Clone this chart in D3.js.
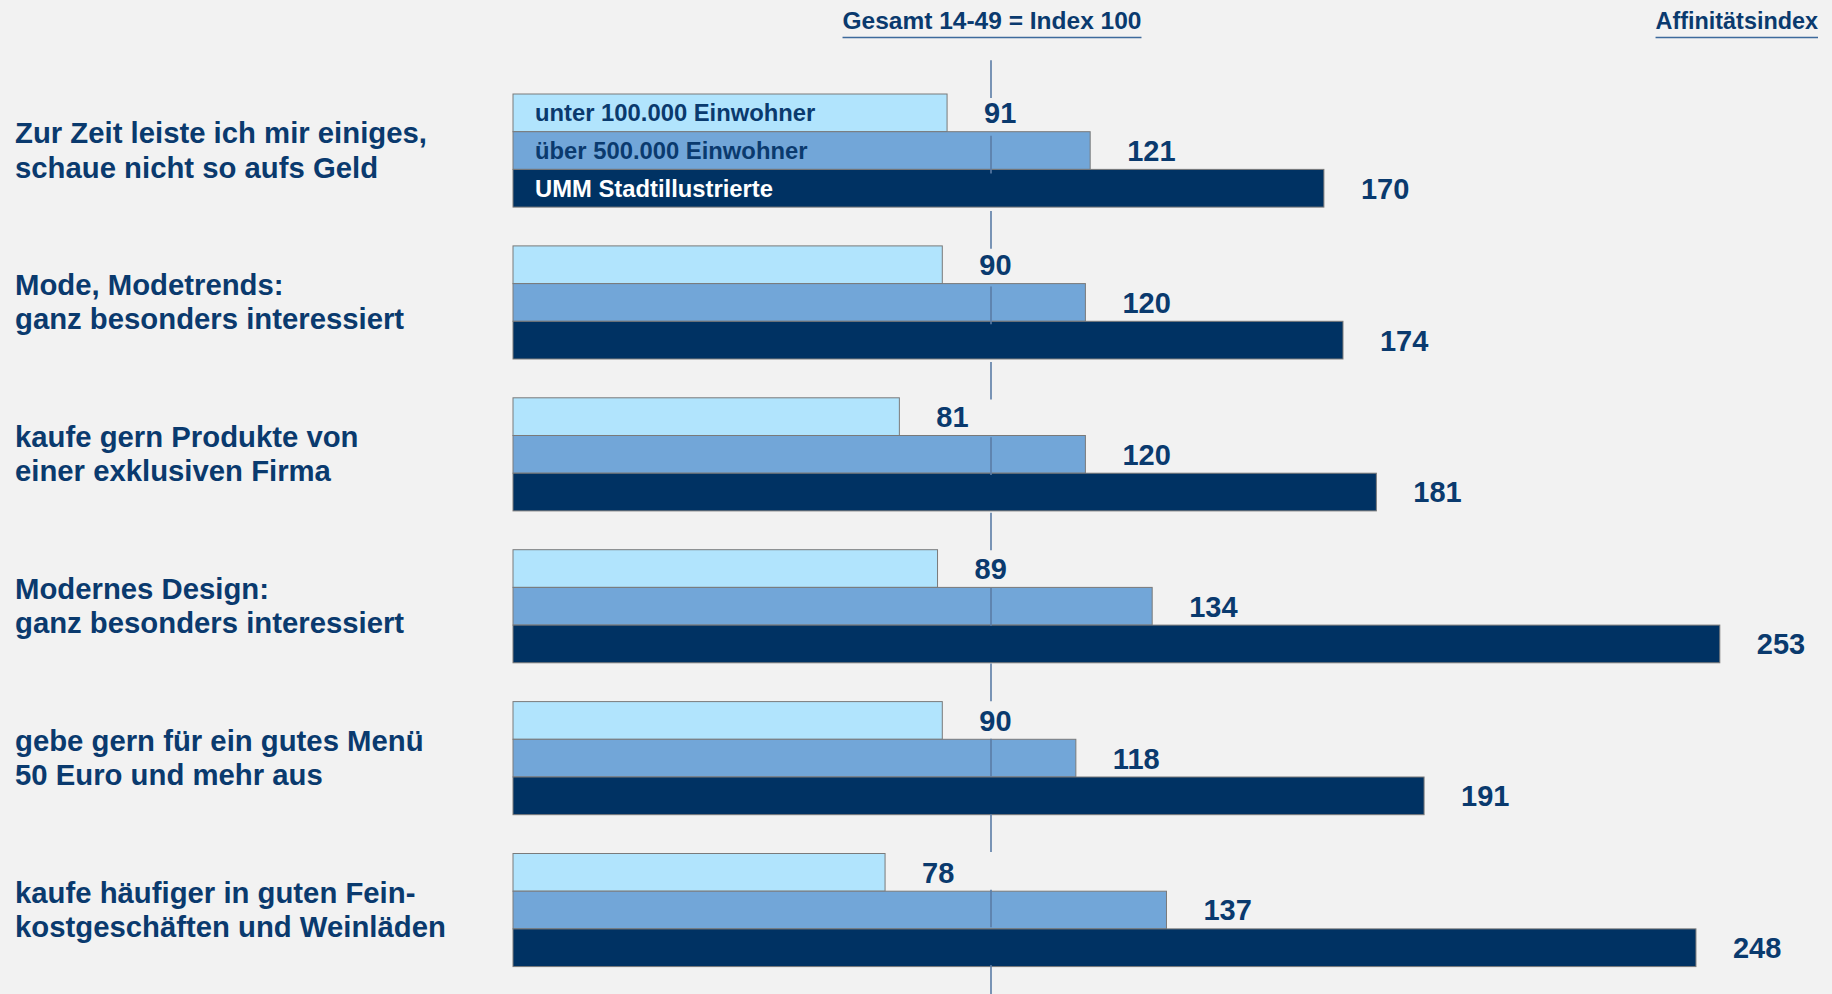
<!DOCTYPE html>
<html>
<head>
<meta charset="utf-8">
<script src="https://cdn.jsdelivr.net/npm/d3@7"></script>
<style>
  html, body { margin: 0; padding: 0; background: #f2f2f2; }
  svg { display: block; }
  text { font-family: "Liberation Sans", Arial, Helvetica, sans-serif; font-weight: bold; }
</style>
</head>
<body>
<script>
// ---- data ----
const categories = [
  ["Zur Zeit leiste ich mir einiges,", "schaue nicht so aufs Geld"],
  ["Mode, Modetrends:", "ganz besonders interessiert"],
  ["kaufe gern Produkte von", "einer exklusiven Firma"],
  ["Modernes Design:", "ganz besonders interessiert"],
  ["gebe gern für ein gutes Menü", "50 Euro und mehr aus"],
  ["kaufe häufiger in guten Fein-", "kostgeschäften und Weinläden"]
];
const seriesNames = ["unter 100.000 Einwohner", "über 500.000 Einwohner", "UMM Stadtillustrierte"];
const unter100k = [91, 90, 81, 89, 90, 78];
const ueber500k = [121, 120, 120, 134, 118, 137];
const umm = [170, 174, 181, 253, 191, 248];
const indexValue = 100;
const headerCenter = "Gesamt 14-49 = Index 100";
const headerRight = "Affinitätsindex";

// ---- layout ----
const W = 1832, H = 994;
const textColor = "#0a3a6e";
const colors = ["#b1e4fd", "#72a6d8", "#003263"];
const labelColors = [textColor, textColor, "#ffffff"];
const seriesValues = [unter100k, ueber500k, umm];

const svg = d3.select("body").append("svg").attr("width", W).attr("height", H);
svg.append("rect").attr("width", W).attr("height", H).attr("fill", "#f2f2f2");

const x = d3.scaleLinear().domain([0, 100]).range([513, 990]);
const step = 151.9, pInner = 0.2555;
const y0 = 94 - step * pInner / 2;
const yGroup = d3.scaleBand().domain(d3.range(categories.length))
  .range([y0, y0 + step * categories.length]).paddingInner(pInner).paddingOuter(pInner / 2);
const ySeries = d3.scaleBand().domain(d3.range(seriesNames.length)).range([0, yGroup.bandwidth()]);
const rowH = ySeries.bandwidth();

// data rows
const rows = [];
categories.forEach((c, i) => {
  seriesValues.forEach((vals, s) => rows.push({ cat: i, s: s, v: vals[i] }));
});

// bars
svg.append("g").selectAll("rect").data(rows).join("rect")
  .attr("x", x(0))
  .attr("y", d => yGroup(d.cat) + ySeries(d.s))
  .attr("width", d => x(d.v) - x(0))
  .attr("height", rowH)
  .attr("fill", d => colors[d.s])
  .attr("stroke", "#7a7a7a")
  .attr("stroke-width", 1);

// index 100 reference line (dashed, one row on / one row off)
const lineTop = yGroup(0) - rowH + 4;
svg.append("line")
  .attr("x1", x(indexValue) + 1).attr("x2", x(indexValue) + 1)
  .attr("y1", lineTop).attr("y2", H)
  .attr("stroke", "#5a7ca6").attr("stroke-width", 1.6)
  .attr("stroke-dasharray", `${rowH} ${rowH}`);

// value labels
svg.append("g").selectAll("text").data(rows).join("text")
  .attr("x", d => x(d.v) + 37)
  .attr("y", d => yGroup(d.cat) + ySeries(d.s) + rowH / 2)
  .attr("dy", "0.36em")
  .attr("font-size", 29)
  .attr("fill", textColor)
  .text(d => d.v);

// series labels inside first group
svg.append("g").selectAll("text").data(seriesNames).join("text")
  .attr("x", x(0) + 22)
  .attr("y", (d, s) => yGroup(0) + ySeries(s) + rowH / 2)
  .attr("dy", "0.36em")
  .attr("font-size", 23.8)
  .attr("fill", (d, s) => labelColors[s])
  .text(d => d);

// category labels
const catG = svg.append("g").selectAll("text").data(categories).join("text")
  .attr("font-size", 29.3)
  .attr("fill", textColor);
catG.each(function (lines, i) {
  const cy = yGroup(i) + yGroup.bandwidth() / 2;
  d3.select(this).selectAll("tspan").data(lines).join("tspan")
    .attr("x", 15)
    .attr("y", (l, k) => cy - 7.5 + k * 34.5)
    .text(l => l);
});

// headers with underline
function header(txt, xPos, anchor, size) {
  const t = svg.append("text")
    .attr("x", xPos).attr("y", 29)
    .attr("text-anchor", anchor)
    .attr("font-size", size)
    .attr("fill", textColor)
    .text(txt);
  const bb = t.node().getBBox();
  svg.append("line")
    .attr("x1", bb.x).attr("x2", bb.x + bb.width)
    .attr("y1", 37.5).attr("y2", 37.5)
    .attr("stroke", "#3d6a9c").attr("stroke-width", 1.6);
}
header(headerCenter, x(indexValue) + 2, "middle", 24.5);
header(headerRight, 1818, "end", 23.4);
</script>
</body>
</html>
